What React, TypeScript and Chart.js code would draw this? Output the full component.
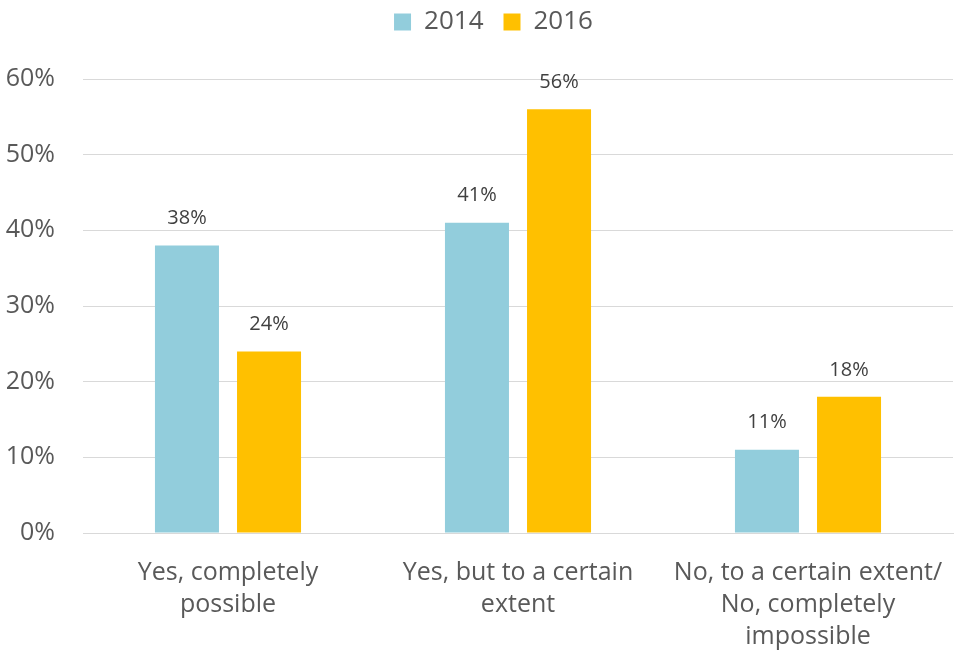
import React, { useEffect, useRef } from "react";
import { Chart, registerables } from "chart.js";

Chart.register(...registerables);

const categories: string[][] = [
  ["Yes, completely", "possible"],
  ["Yes, but to a certain", "extent"],
  ["No, to a certain extent/", "No, completely", "impossible"],
];
const series2014: number[] = [38, 41, 11];
const series2016: number[] = [24, 56, 18];
const yTicks: number[] = [0, 10, 20, 30, 40, 50, 60];

const FONT = "'Open Sans', 'Noto Sans', sans-serif";

const dataLabelPlugin = {
  id: "dataLabels",
  afterDatasetsDraw(chart: any) {
    const ctx = chart.ctx;
    ctx.save();
    ctx.font = `20px ${FONT}`;
    ctx.fillStyle = "#404040";
    ctx.textAlign = "center";
    ctx.textBaseline = "middle";
    chart.data.datasets.forEach((ds: any, i: number) => {
      const meta = chart.getDatasetMeta(i);
      meta.data.forEach((bar: any, j: number) => {
        ctx.fillText(`${ds.data[j]}%`, bar.x, bar.y - 27);
      });
    });
    ctx.restore();
  },
};

const legendSpace = {
  id: "legendSpace",
  beforeInit(chart: any) {
    const orig = chart.legend.fit;
    chart.legend.fit = function () {
      orig.bind(chart.legend)();
      this.height += 34;
    };
  },
  afterLayout(chart: any) {
    chart.legend.left += 15;
    chart.legend.right += 15;
  },
};

export default function App() {
  const ref = useRef<HTMLCanvasElement | null>(null);
  useEffect(() => {
    if (!ref.current) return;
    const chart = new Chart(ref.current, {
      type: "bar",
      data: {
        labels: categories,
        datasets: [
          {
            label: "2014",
            data: series2014,
            backgroundColor: "#92CDDC",
            categoryPercentage: 0.566,
            barPercentage: 0.78,
          },
          {
            label: "2016",
            data: series2016,
            backgroundColor: "#FFC000",
            categoryPercentage: 0.566,
            barPercentage: 0.78,
          },
        ],
      },
      options: {
        animation: false,
        responsive: true,
        maintainAspectRatio: false,
        layout: { padding: { left: 4, right: 1, top: -11, bottom: 0 } },
        plugins: {
          legend: {
            position: "top",
            labels: {
              boxWidth: 17,
              boxHeight: 17,
              padding: 20,
              color: "#595959",
              font: { family: FONT, size: 26 },
            },
          },
          tooltip: { enabled: false },
        },
        scales: {
          x: {
            grid: { display: false, drawTicks: false },
            border: { display: true, color: "#D9D9D9", width: 1 },
            afterFit: (axis: any) => {
              axis.height = 122;
              axis.paddingRight = 0;
              axis.paddingLeft = 0;
            },
            ticks: {
              color: "#595959",
              font: { family: FONT, size: 25, lineHeight: 1.28 },
              padding: 24,
              maxRotation: 0,
              autoSkip: false,
            },
          },
          y: {
            min: 0,
            max: 60,
            afterBuildTicks: (axis: any) => {
              axis.ticks = yTicks.map((v) => ({ value: v }));
            },
            afterFit: (axis: any) => {
              axis.width = 79;
            },
            grid: { color: "#D9D9D9", drawTicks: false, lineWidth: 1 },
            border: { display: false },
            ticks: {
              color: "#595959",
              font: { family: FONT, size: 25 },
              padding: 28,
              callback: (v: any) => `${v}%`,
            },
          },
        },
      },
      plugins: [dataLabelPlugin, legendSpace],
    });
    return () => chart.destroy();
  }, []);
  return (
    <div style={{ position: "absolute", left: 0, top: 0, width: 954, height: 655, background: "#fff" }}>
      <canvas ref={ref} />
    </div>
  );
}
